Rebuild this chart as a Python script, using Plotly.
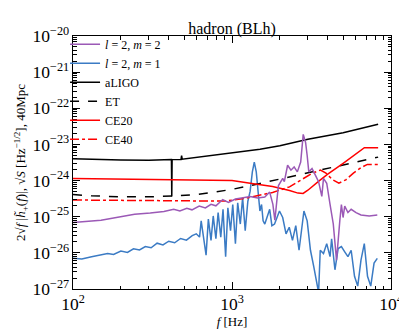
import plotly.graph_objects as go

# l=2, m=2 mode
f_22 = [100, 150, 244, 306, 373, 430, 470, 520, 560, 622, 680, 738, 792, 874, 950,
        1051, 1150, 1300, 1450, 1608, 1726, 1808, 1860, 1941, 1960, 2084, 2134, 2237,
        2348, 2459, 2576, 2704, 2805, 2903, 2970, 3041, 3187, 3344, 3504, 3672, 3762,
        3942, 4137, 4335, 4542, 4653, 4764, 4876, 4995, 5117, 5360, 5616, 6028, 6474,
        7292, 8200]
h_22 = [6.9e-26, 8.0e-26, 1.17e-25, 1.27e-25, 1.4e-25, 1.6e-25, 1.45e-25, 1.7e-25,
        1.55e-25, 1.96e-25, 1.75e-25, 2.2e-25, 2.0e-25, 2.98e-25, 2.5e-25, 3.1e-25,
        3.3e-25, 3.6e-25, 3.3e-25, 3.5e-25, 4.8e-25, 2.2e-25, 8.0e-26, 5.0e-25, 7.3e-25,
        1.15e-24, 9.3e-25, 2.65e-24, 1.94e-24, 2.38e-24, 1.74e-24, 3.25e-24, 1.9e-23,
        1.13e-23, 4.94e-24, 1.74e-24, 2.15e-24, 1.42e-24, 9.3e-25, 3.66e-25, 1.15e-24,
        8.45e-25, 2.18e-25, 6.3e-26, 6.3e-27, 2.2e-26, 7.7e-26, 2.18e-25, 9.5e-26,
        1.96e-25, 1.3e-25, 1.6e-25, 1.3e-25, 1.12e-25, 1.05e-25, 1.12e-25]

# l=2, m=1 mode
f_21 = [100, 113.6, 130.9, 150.8, 165, 180, 200, 220, 240, 262, 285, 310, 338, 368,
        400, 436, 475, 517, 562, 596,
        625, 640, 671, 687, 710, 738, 762, 792, 818, 850, 878, 912, 942, 979, 1011,
        1051, 1086, 1128, 1166, 1211, 1258, 1300, 1343, 1381, 1421, 1462, 1498, 1534,
        1569, 1608, 1670, 1726, 1782, 1852, 1989, 2084, 2187, 2291, 2401, 2518, 2640,
        2834, 2970, 3115, 3265, 3421, 3504, 3589, 3762, 3942, 4137, 4232, 4441, 4653,
        4876, 5117, 5360, 5616, 5896, 6177, 6474, 6793, 7117, 7458, 7825, 8200]
h_21 = [7.05e-27, 6.75e-27, 7.84e-27, 8.67e-27, 9.6e-27, 9.0e-27, 1.12e-26, 1.03e-26,
        1.3e-26, 1.2e-26, 1.5e-26, 1.38e-26, 1.85e-26, 1.65e-26, 2.1e-26, 1.9e-26,
        2.5e-26, 2.25e-26, 3.0e-26, 3.36e-26,
        2.73e-26, 7.7e-26, 1.8e-26, 8.67e-27,
        8.55e-26, 2.21e-26, 1.05e-25, 2.46e-26, 1.3e-25, 2.73e-26, 1.6e-25, 7.84e-27,
        1.77e-25, 4.12e-26, 2.18e-25, 1.8e-26, 2.43e-25, 6.27e-26, 3.31e-25, 4.12e-26,
        2.68e-25, 5.0e-25, 1.74e-24, 3.25e-24, 1.74e-24, 5.0e-25, 1.44e-25, 2.18e-25,
        7.7e-26, 6.27e-26, 1.05e-25, 1.6e-25, 5.64e-26, 6.27e-26, 1.44e-25, 9.5e-26,
        3.36e-26, 5.1e-26, 2.21e-26, 5.64e-26, 1.18e-26, 1.44e-25, 7.7e-26, 1.18e-26,
        4.2e-27, 1.2e-27, 8e-28, 1.18e-26, 9.6e-27, 1.8e-26, 7.84e-27, 2.46e-26, 3.4e-27,
        1.32e-26, 1.49e-26, 1.07e-26, 7.84e-27, 1.18e-26, 2.25e-27, 1.2e-27, 6.3e-27,
        1.8e-26, 2.25e-27, 1.2e-27, 5.2e-27, 7.05e-27]

# detector noise curves
f_aligo = [100, 150, 200, 300, 400, 416, 418, 420, 478, 482, 486, 600, 700, 1000,
           1500, 2000, 3000, 5000, 8300]
h_aligo = [4.0e-24, 3.8e-24, 3.7e-24, 3.65e-24, 3.75e-24, 3.8e-24, 3.6e-25, 3.8e-24,
           3.85e-24, 4.9e-24, 3.9e-24, 4.4e-24, 4.7e-24, 5.8e-24, 7.4e-24, 9.2e-24,
           1.4e-23, 2.1e-23, 3.6e-23]

f_et = [100, 130, 200, 300, 450, 600, 800, 1000, 1500, 2000, 3000, 5000, 8300]
h_et = [4.1e-25, 3.8e-25, 3.55e-25, 3.55e-25, 3.8e-25, 4.1e-25, 4.9e-25, 5.7e-25,
        8.3e-25, 1.1e-24, 1.6e-24, 2.7e-24, 4.45e-24]

f_ce20 = [100, 300, 600, 1000, 1400, 1800, 2300, 2600, 2800, 3000, 3500, 4000, 5000,
          6000, 6800, 8300]
h_ce20 = [1.15e-24, 1.1e-24, 1.05e-24, 1.0e-24, 8.0e-25, 6.9e-25, 5.3e-25, 4.5e-25,
          4.4e-25, 5.4e-25, 9.5e-25, 1.5e-24, 3.0e-24, 5.5e-24, 8.1e-24, 8.1e-24]

f_ce40 = [100, 300, 600, 900, 1200, 1400, 1800, 2300, 2800, 3200, 3600, 3900, 4300,
          4700, 5200, 5800, 6500, 7100, 8300]
h_ce40 = [2.9e-25, 2.8e-25, 2.75e-25, 2.7e-25, 3.2e-25, 3.7e-25, 4.7e-25, 6.7e-25,
          1.1e-24, 1.6e-24, 1.95e-24, 1.6e-24, 1.05e-24, 8.5e-25, 1.05e-24, 1.6e-24,
          2.3e-24, 2.8e-24, 2.8e-24]

serif = "Liberation Serif"

fig = go.Figure()
fig.add_trace(go.Scatter(x=f_21, y=h_21, mode="lines", name="<i>l</i> = 2, <i>m</i> = 1",
                         legendrank=2, line=dict(color="#3b7bc4", width=1.5)))
fig.add_trace(go.Scatter(x=f_aligo, y=h_aligo, mode="lines", name="aLIGO", legendrank=3,
                         line=dict(color="black", width=1.5)))
fig.add_trace(go.Scatter(x=f_et, y=h_et, mode="lines", name="ET", legendrank=4,
                         line=dict(color="black", width=1.5, dash="dash")))
fig.add_trace(go.Scatter(x=f_ce20, y=h_ce20, mode="lines", name="CE20", legendrank=5,
                         line=dict(color="red", width=1.5)))
fig.add_trace(go.Scatter(x=f_ce40, y=h_ce40, mode="lines", name="CE40", legendrank=6,
                         line=dict(color="red", width=1.5, dash="dashdot")))
fig.add_trace(go.Scatter(x=f_22, y=h_22, mode="lines", name="<i>l</i> = 2, <i>m</i> = 2",
                         legendrank=1, line=dict(color="#9b59b6", width=1.5, simplify=False)))

axis_common = dict(
    type="log", showgrid=False, zeroline=False, showline=True, linecolor="black",
    linewidth=1, mirror="allticks", ticks="inside", ticklen=7, tickcolor="black",
    exponentformat="power", dtick=1,
    minor=dict(ticks="inside", ticklen=3.5, tickcolor="black", dtick="D1"),
    tickfont=dict(family=serif, size=14, color="black"),
)

fig.update_xaxes(range=[2, 4], title=dict(text="<i>f</i> [Hz]", standoff=3,
                 font=dict(family=serif, size=13, color="black")), **axis_common)
fig.update_yaxes(range=[-27, -20], title=dict(
    text="2√<i>f</i> |<i>h̃</i><sub>+</sub>(<i>f</i>)|, √<i>S</i> [Hz<sup>−1/2</sup>], 40Mpc",
    standoff=3, font=dict(family=serif, size=13, color="black")), **axis_common)

fig.update_layout(
    width=407, height=330,
    title=dict(text="hadron (BLh)", x=0.5, xanchor="center", xref="paper", y=0.955,
               font=dict(family=serif, size=16, color="black")),
    paper_bgcolor="white", plot_bgcolor="white",
    margin=dict(l=64, r=18, t=28, b=44),
    legend=dict(x=-0.025, y=1.025, xanchor="left", yanchor="top", bgcolor="rgba(0,0,0,0)",
                font=dict(family=serif, size=12, color="black"), tracegroupgap=0),
    showlegend=True,
)

fig.write_html("out.html")
